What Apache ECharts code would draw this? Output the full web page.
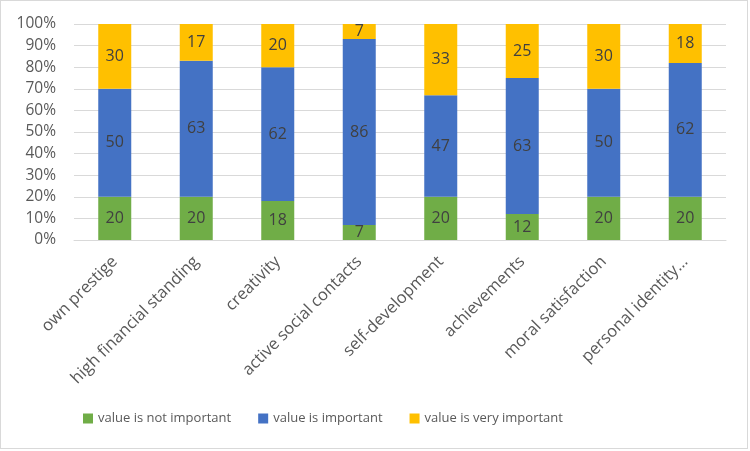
<!DOCTYPE html>
<html>
<head>
<meta charset="utf-8">
<script src="https://cdn.jsdelivr.net/npm/echarts@6/dist/echarts.min.js"></script>
<style>
html,body{margin:0;padding:0;background:#fff;}
#wrap{position:absolute;left:0;top:0;width:748px;height:449px;border:1px solid #d9d9d9;box-sizing:border-box;}
#chart{width:750px;height:451px;}
</style>
</head>
<body>
<div id="chart"></div>
<div id="wrap"></div>
<script>
const categories = ["own prestige","high financial standing","creativity","active social contacts","self-development","achievements","moral satisfaction","personal identity..."];
const notImportant = [20,20,18,7,20,12,20,20];
const important = [50,63,62,86,47,63,50,62];
const veryImportant = [30,17,20,7,33,25,30,18];
const yTicks = [0,10,20,30,40,50,60,70,80,90,100];

const font = 'Open Sans';
const chart = echarts.init(document.getElementById('chart'));
function series(name, data, color){
  return {
    name, type:'bar', stack:'total', data, barWidth:33,
    itemStyle:{color},
    label:{show:true, position:'inside', color:'#404040', fontSize:16, fontFamily:font},
    emphasis:{disabled:true}
  };
}
chart.setOption({
  animation:false,
  grid:{left:74, right:24, top:24, bottom:211, containLabel:false},
  legend:{
    bottom:21, left:78, itemWidth:10, itemHeight:10, itemGap:27, icon:'rect',
    textStyle:{color:'#595959', fontSize:13, fontFamily:font}
  },
  xAxis:{
    type:'category', data:categories,
    axisLine:{lineStyle:{color:'#d9d9d9', width:1}},
    axisTick:{show:false},
    axisLabel:{rotate:45, interval:0, color:'#595959', fontSize:16.5, fontFamily:font, margin:19}
  },
  yAxis:{
    type:'value', min:0, max:100, interval:10,
    axisLabel:{formatter:v=>v+'%', color:'#595959', fontSize:15.5, fontFamily:font, margin:18},
    splitLine:{lineStyle:{color:'#d9d9d9', width:1}},
    axisLine:{show:false}, axisTick:{show:false}
  },
  series:[
    series('value is not important', notImportant, '#70ad47'),
    series('value is important', important, '#4472c4'),
    series('value is very important', veryImportant, '#ffc000')
  ]
});
</script>
</body>
</html>
